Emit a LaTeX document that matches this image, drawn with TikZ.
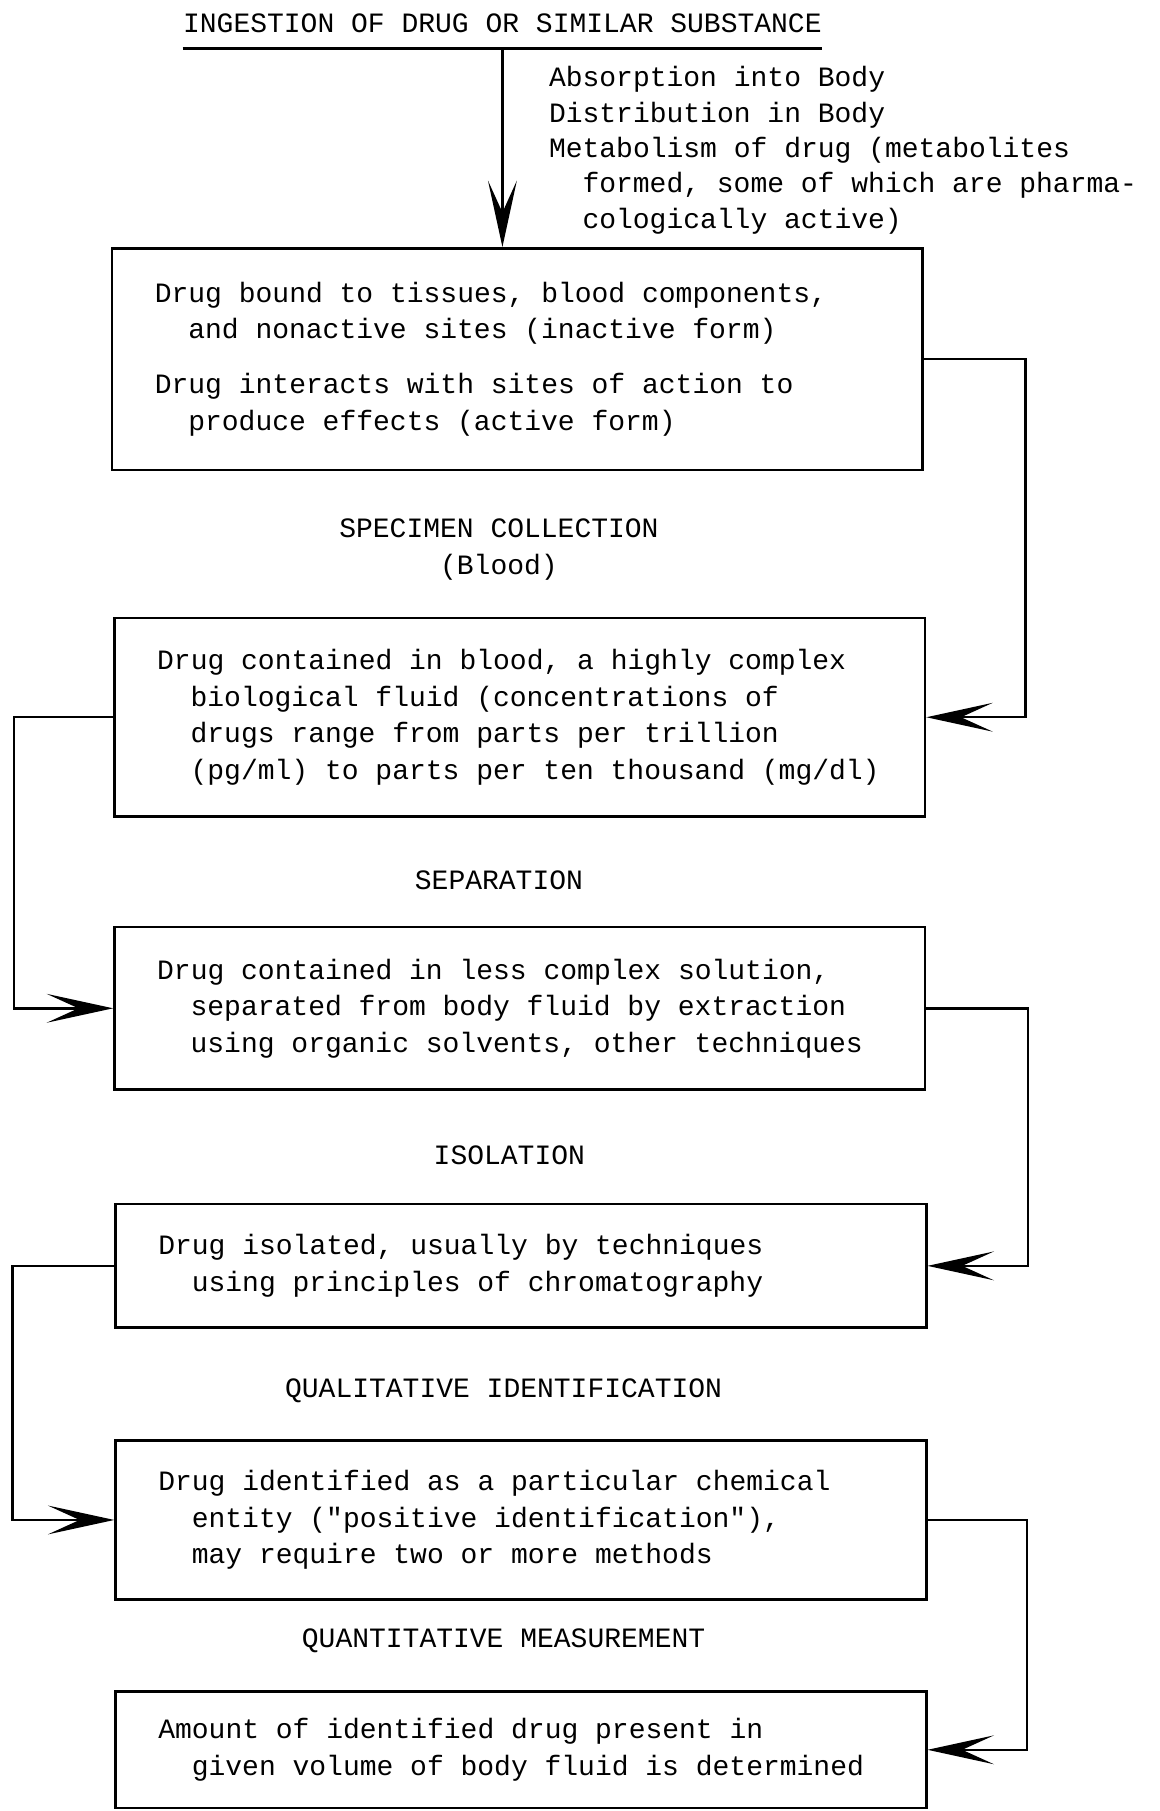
\documentclass[tikz,border=0pt]{standalone}
\usepackage{fontspec}
\setmainfont{Liberation Mono}
\usepackage{tikz}
\usetikzlibrary{arrows.meta, positioning, calc}
\newcommand{\ind}{\hspace*{0.58cm}}
\newcommand{\fullline}[1]{\makebox[12.56cm][l]{#1}}
\tikzset{
  stage/.style={
    draw, line width=1.3pt, minimum width=14.04cm, inner xsep=0.74cm,
    minimum height=#1, align=left,
    font=\fontsize{13.8}{18}\selectfont
  },
  stage/.default=2cm,
  arr/.style={-{Stealth[length=1.15cm,width=0.5cm,inset=0.55cm]}, line width=1.2pt},
  lbl/.style={font=\fontsize{13.8}{18}\selectfont, inner sep=0pt},
  side/.style={font=\fontsize{13.8}{17.4}\selectfont, align=left, inner sep=0pt},
}
\begin{document}
\begin{tikzpicture}[x=0.02cm, y=-0.02cm]
    \useasboundingbox (0,0) rectangle (1004,1568);

    \node[lbl, anchor=base] (title) at (435,28) {INGESTION OF DRUG OR SIMILAR SUBSTANCE};
    \draw[line width=1.4pt] ([yshift=-0.28cm]title.base west) -- ([yshift=-0.28cm]title.base east);
    \coordinate (ing) at (435,42);

    \node[side, anchor=west] (route) at (475,130)
      {Absorption into Body\\
       Distribution in Body\\
       Metabolism of drug (metabolites\\
       \ind formed, some of which are pharma-\\
       \ind cologically active)};

    \node[stage=3.84cm] (bound) at (448,311)
      {\fullline{Drug bound to tissues, blood components,}\\
       \ind and nonactive sites (inactive form)\\[0.32cm]
       Drug interacts with sites of action to\\
       \ind produce effects (active form)};

    \node[lbl, align=center] (spec) at (432,476) {SPECIMEN COLLECTION\\(Blood)};

    \node[stage=3.44cm] (blood) at (450,621)
      {\fullline{Drug contained in blood, a highly complex}\\
       \ind biological fluid (concentrations of\\
       \ind drugs range from parts per trillion\\
       \ind (pg/ml) to parts per ten thousand (mg/dl)};

    \node[lbl] (sep) at (432,762) {SEPARATION};

    \node[stage=2.82cm] (soln) at (450,873)
      {\fullline{Drug contained in less complex solution,}\\
       \ind separated from body fluid by extraction\\
       \ind using organic solvents, other techniques};

    \node[lbl] (iso) at (441,1000) {ISOLATION};

    \node[stage=2.14cm] (isol) at (451,1096)
      {\fullline{Drug isolated, usually by techniques}\\
       \ind using principles of chromatography};

    \node[lbl] (qual) at (436,1204) {QUALITATIVE IDENTIFICATION};

    \node[stage=2.76cm] (ident) at (451,1316)
      {\fullline{Drug identified as a particular chemical}\\
       \ind entity (\textquotedbl positive identification\textquotedbl),\\
       \ind may require two or more methods};

    \node[lbl] (quant) at (436,1421) {QUANTITATIVE MEASUREMENT};

    \node[stage=2.02cm] (amount) at (451,1515)
      {\fullline{Amount of identified drug present in}\\
       \ind given volume of body fluid is determined};

    \draw[arr] (ing) -- (ing |- bound.north);
    \draw[arr] (bound.east) -- ++(1.76cm,0) |- (blood.east);
    \draw[arr] (blood.west) -- ++(-1.72cm,0) |- (soln.west);
    \draw[arr] (soln.east) -- ++(1.76cm,0) |- (isol.east);
    \draw[arr] (isol.west) -- ++(-1.76cm,0) |- (ident.west);
    \draw[arr] (ident.east) -- ++(1.72cm,0) |- (amount.east);
  \end{tikzpicture}
\end{document}
